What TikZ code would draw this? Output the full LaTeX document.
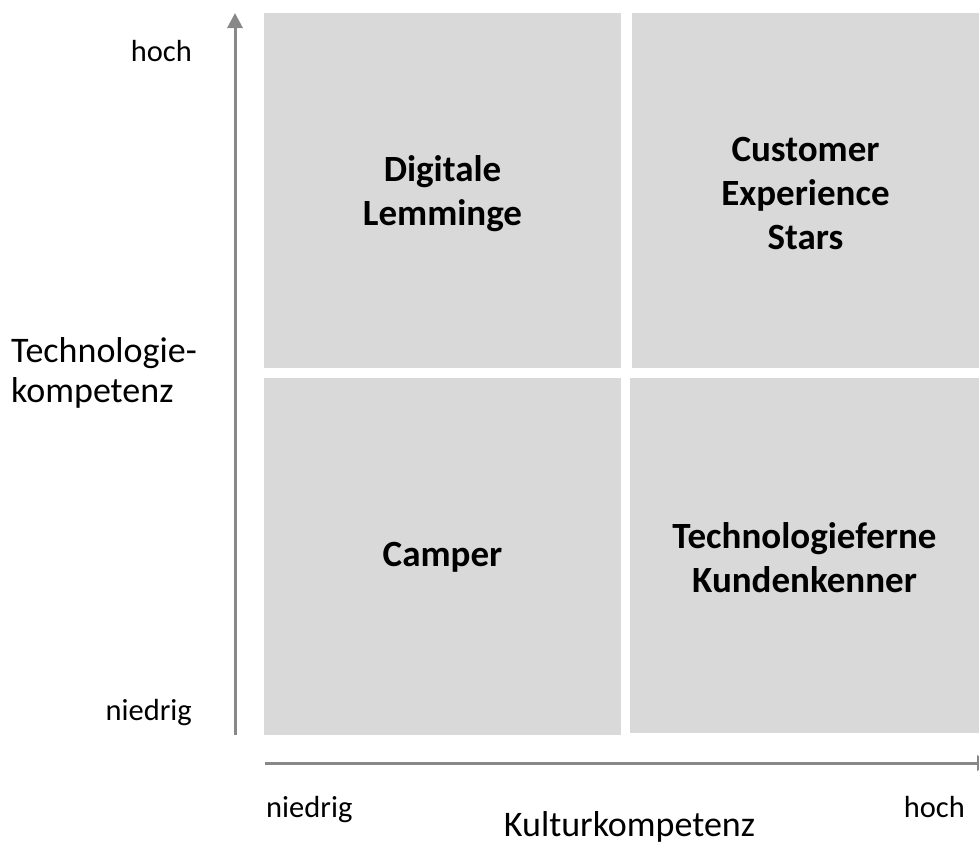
\documentclass[tikz,border=0pt]{standalone}
\usepackage{fontspec}
\setmainfont{Carlito}
\usetikzlibrary{arrows.meta}

\newlength{\du}
\setlength{\du}{1pt}
\definecolor{quadfill}{rgb}{0.851, 0.851, 0.851}
\definecolor{axiscolor}{rgb}{0.533, 0.533, 0.533}

\begin{document}
\begin{tikzpicture}[yscale=-1,
  quad/.style={fill=quadfill, inner sep=0pt, align=center,
    font=\fontsize{37pt}{44pt}\selectfont\bfseries},
  axisline/.style={draw=axiscolor, line width=3pt,
    -{Triangle[length=15pt, width=15pt]}},
  axistitle/.style={inner sep=0pt, font=\fontsize{36pt}{40pt}\selectfont},
  ticklabel/.style={inner sep=0pt, font=\fontsize{30.5pt}{34pt}\selectfont}]
\useasboundingbox (0\du,0\du) rectangle (979\du,844\du);
\clip (0\du,0\du) rectangle (979\du,844\du);
% quadrants
\fill[quadfill] (264\du,13\du) rectangle (621\du,368\du);
\fill[quadfill] (632\du,13\du) rectangle (979\du,368\du);
\fill[quadfill] (264\du,378\du) rectangle (621\du,735\du);
\fill[quadfill] (630\du,378\du) rectangle (979\du,733\du);
\node[quad] (lemminge) at (442.5\du,193.5\du) {Digitale\\Lemminge};
\node[quad] (stars) at (805.5\du,193\du) {Customer\\Experience\\Stars};
\node[quad] (camper) at (442.5\du,557\du) {Camper};
\node[quad] (kenner) at (804.5\du,558\du) {Technologieferne\\Kundenkenner};
% axes
\coordinate (ybottom) at (235\du,735\du);
\coordinate (ytop) at (235\du,13\du);
\coordinate (xleft) at (265\du,763\du);
\coordinate (xright) at (992\du,763\du);
\draw[axisline] (ybottom) -- (ytop);
\draw[axisline] (xleft) -- (xright);
% labels
\node[axistitle, align=left, anchor=west] (techtitle) at (11\du,373\du) {Technologie-\\kompetenz};
\node[ticklabel, anchor=base east] (yhigh) at (192\du,61\du) {hoch};
\node[ticklabel, anchor=base east] (ylow) at (192\du,720\du) {niedrig};
\node[axistitle, anchor=base] (kulturtitle) at (629.5\du,836\du) {Kulturkompetenz};
\node[ticklabel, anchor=base west] (xlow) at (266\du,817\du) {niedrig};
\node[ticklabel, anchor=base east] (xhigh) at (965\du,817\du) {hoch};
\end{tikzpicture}
\end{document}
